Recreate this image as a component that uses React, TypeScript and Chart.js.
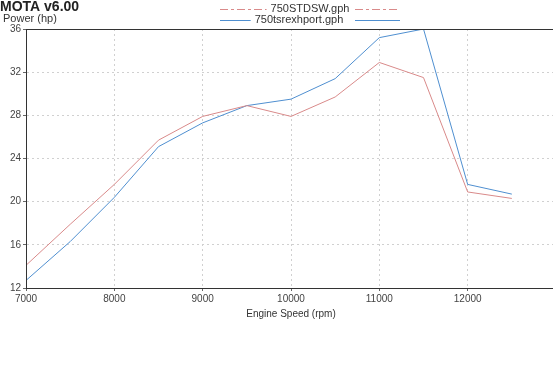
import React, { useEffect, useRef } from "react";
import { Chart, registerables } from "chart.js";

Chart.register(...registerables);

const rpm = [7000, 7500, 8000, 8500, 9000, 9500, 10000, 10500, 11000, 11500, 12000, 12500];
const stdsw = [14.1, 17.9, 21.6, 25.7, 27.9, 28.9, 27.9, 29.7, 32.9, 31.5, 20.9, 20.3];
const tsrex = [12.7, 16.3, 20.4, 25.1, 27.3, 28.9, 29.5, 31.4, 35.2, 36.0, 21.6, 20.7];
const seriesNames = ["750STDSW.gph", "750tsrexhport.gph"];
const seriesColors = ["#d98a8a", "#4f8fd0"];
const titleText = "MOTA v6.00";
const yTitle = "Power (hp)";
const xTitle = "Engine Speed (rpm)";

const FONT = "'Liberation Sans', Arial, sans-serif";

const overlay = {
  id: "overlay",
  afterDraw(chart: any) {
    const ctx = chart.ctx;
    const a = chart.chartArea;
    ctx.save();
    ctx.strokeStyle = "#333";
    ctx.lineWidth = 1;
    ctx.beginPath();
    ctx.moveTo(a.left, a.top + 0.5);
    ctx.lineTo(a.right, a.top + 0.5);
    ctx.stroke();
    ctx.fillStyle = "#222";
    ctx.font = "bold 14px " + FONT;
    ctx.textBaseline = "middle";
    ctx.textAlign = "left";
    ctx.fillText(titleText, 0, 7);
    ctx.font = "11px " + FONT;
    ctx.fillStyle = "#333";
    ctx.fillText(yTitle, 3, 19);
    ctx.font = "11px " + FONT;
    ctx.textAlign = "center";
    const rows = [9, 20];
    seriesNames.forEach((n, i) => {
      const y = rows[i] + 0.5;
      ctx.strokeStyle = seriesColors[i];
      ctx.setLineDash(i === 0 ? [8, 3, 3, 3] : []);
      const w = ctx.measureText(n).width;
      const cx = i === 0 ? 310 : 299;
      ctx.beginPath();
      ctx.moveTo(220, y);
      ctx.lineTo(cx - w / 2 - 4, y);
      ctx.moveTo(355, y);
      ctx.lineTo(400, y);
      ctx.stroke();
      ctx.setLineDash([]);
      ctx.fillStyle = "#333";
      ctx.fillText(n, cx, rows[i]);
    });
    ctx.restore();
  },
};

export default function App() {
  const ref = useRef<HTMLCanvasElement>(null);
  useEffect(() => {
    const chart = new Chart(ref.current!, {
      type: "line",
      data: {
        datasets: [
          {
            label: seriesNames[0],
            data: rpm.map((x, i) => ({ x, y: stdsw[i] })),
            borderColor: seriesColors[0],
            borderWidth: 1,
            pointRadius: 0,
            tension: 0,
          },
          {
            label: seriesNames[1],
            data: rpm.map((x, i) => ({ x, y: tsrex[i] })),
            borderColor: seriesColors[1],
            borderWidth: 1,
            pointRadius: 0,
            tension: 0,
          },
        ],
      },
      options: {
        animation: false,
        responsive: false,
        maintainAspectRatio: false,
        layout: { padding: { top: 29, right: 4, bottom: 64, left: 0 } },
        plugins: { legend: { display: false }, tooltip: { enabled: false } },
        scales: {
          x: {
            type: "linear",
            min: 7000,
            max: 13000,
            afterFit: (s: any) => {
              s.height = 32;
            },
            ticks: {
              stepSize: 1000,
              maxRotation: 0,
              padding: 2,
              color: "#444",
              font: { family: FONT, size: 10 },
              callback: (v: any) => (v >= 13000 ? "" : String(v)),
            },
            grid: { color: "#d0d0d0", tickLength: 3, tickColor: "#666" },
            border: { color: "#333", display: true, dash: [2, 3] },
            title: {
              display: true,
              text: xTitle,
              color: "#333",
              font: { family: FONT, size: 10 },
              padding: { top: 0, bottom: 0 },
            },
          },
          y: {
            min: 12,
            max: 36,
            afterFit: (s: any) => {
              s.width = 26;
            },
            ticks: {
              stepSize: 4,
              padding: 2,
              color: "#444",
              font: { family: FONT, size: 10 },
            },
            grid: { color: "#d0d0d0", tickLength: 3, tickColor: "#666" },
            border: { color: "#333", dash: [2, 3] },
          },
        },
      },
      plugins: [
        overlay,
        {
          id: "solidAxes",
          afterDraw(chart: any) {
            const ctx = chart.ctx;
            const a = chart.chartArea;
            ctx.save();
            ctx.strokeStyle = "#333";
            ctx.lineWidth = 1;
            ctx.setLineDash([]);
            ctx.beginPath();
            ctx.moveTo(a.left + 0.5, a.top);
            ctx.lineTo(a.left + 0.5, a.bottom);
            ctx.moveTo(a.left, a.bottom + 0.5);
            ctx.lineTo(a.right, a.bottom + 0.5);
            ctx.stroke();
            ctx.restore();
          },
        },
      ],
    } as any);
    return () => chart.destroy();
  }, []);
  return (
    <div
      style={{
        position: "fixed",
        left: 0,
        top: 0,
        width: 553,
        height: 384,
        overflow: "hidden",
        background: "#fff",
      }}
    >
      <canvas ref={ref} width={560} height={384} style={{ width: 560, height: 384, display: "block" }} />
    </div>
  );
}
